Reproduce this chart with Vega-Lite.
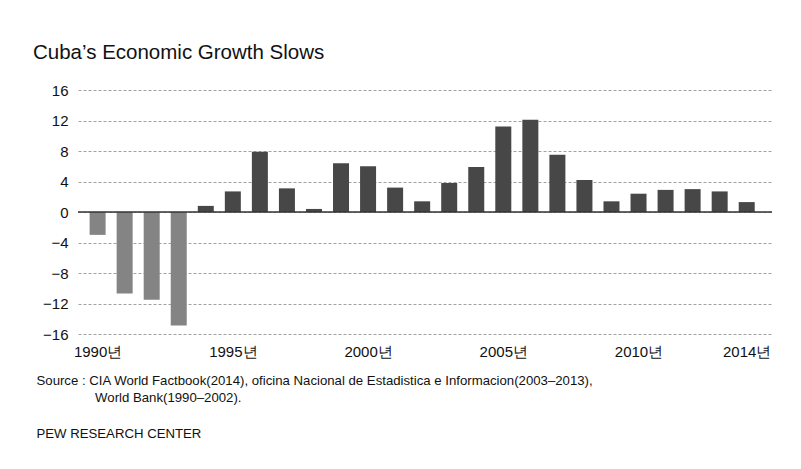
{
  "$schema": "https://vega.github.io/schema/vega-lite/v6.json",
  "width": 694,
  "height": 244,
  "autosize": {"type": "none"},
  "padding": {"left": 78, "top": 90, "right": 29, "bottom": 135},
  "background": "white",
  "title": {
    "text": "Cuba’s Economic Growth Slows",
    "anchor": "start",
    "frame": "group",
    "dx": -45,
    "offset": 20,
    "fontSize": 20.5,
    "fontWeight": "normal",
    "font": "Liberation Sans",
    "color": "#111"
  },
  "config": {
    "view": {"stroke": null},
    "font": "Liberation Sans",
    "axisY": {
      "labelOverlap": false,
      "ticks": false,
      "domain": false,
      "gridDash": [3, 2],
      "gridColor": "#8a8a8a",
      "gridWidth": 0.8,
      "labelFontSize": 15,
      "labelColor": "#111",
      "labelPadding": 10,
      "labelFont": "Liberation Sans",
      "titleAngle": 0,
      "titleAlign": "left",
      "titleBaseline": "middle",
      "titleAnchor": "start",
      "titleX": -42,
      "titleY": 343,
      "titleFontSize": 13.2,
      "titleFontWeight": "normal",
      "titleColor": "#111",
      "titleFont": "Liberation Sans"
    }
  },
  "data": {
    "values": [
      {"year": 1990, "growth": -3.0},
      {"year": 1991, "growth": -10.7},
      {"year": 1992, "growth": -11.5},
      {"year": 1993, "growth": -14.9},
      {"year": 1994, "growth": 0.8},
      {"year": 1995, "growth": 2.7},
      {"year": 1996, "growth": 7.9},
      {"year": 1997, "growth": 3.1},
      {"year": 1998, "growth": 0.4},
      {"year": 1999, "growth": 6.4},
      {"year": 2000, "growth": 6.0},
      {"year": 2001, "growth": 3.2},
      {"year": 2002, "growth": 1.4},
      {"year": 2003, "growth": 3.8},
      {"year": 2004, "growth": 5.9},
      {"year": 2005, "growth": 11.2},
      {"year": 2006, "growth": 12.1},
      {"year": 2007, "growth": 7.5},
      {"year": 2008, "growth": 4.2},
      {"year": 2009, "growth": 1.4},
      {"year": 2010, "growth": 2.4},
      {"year": 2011, "growth": 2.9},
      {"year": 2012, "growth": 3.0},
      {"year": 2013, "growth": 2.7},
      {"year": 2014, "growth": 1.3}
    ]
  },
  "layer": [
    {
      "mark": {"type": "bar", "size": 16},
      "encoding": {
        "x": {
          "field": "year",
          "type": "quantitative",
          "scale": {"domain": [1989.46, 2014.75], "nice": false, "zero": false},
          "axis": {
            "values": [1990, 1995, 2000, 2005, 2010, 2014],
            "labelExpr": "datum.value + '년'",
            "labelOverlap": false,
            "grid": false,
            "ticks": false,
            "domain": false,
            "labelFontSize": 15,
            "labelColor": "#111",
            "labelPadding": 10,
            "labelFont": "Liberation Sans",
            "title": [
              "Source : CIA World Factbook(2014), oficina Nacional de Estadistica e Informacion(2003–2013),",
              "\u200b\u00a0\u00a0\u00a0\u00a0\u00a0\u00a0\u00a0\u00a0\u00a0\u00a0\u00a0\u00a0\u00a0\u00a0\u00a0\u00a0World Bank(1990–2002)."
            ],
            "titleAnchor": "start",
            "titleAlign": "left",
            "titleBaseline": "top",
            "titleX": -42,
            "titleY": 40,
            "titleFontSize": 13.2,
            "titleFontWeight": "normal",
            "titleColor": "#111",
            "titleLineHeight": 17.5,
            "titleFont": "Liberation Sans"
          }
        },
        "y": {
          "field": "growth",
          "type": "quantitative",
          "scale": {"domain": [-16, 16], "nice": false},
          "title": "PEW RESEARCH CENTER",
          "axis": {"values": [-16, -12, -8, -4, 0, 4, 8, 12, 16]}
        },
        "color": {
          "condition": {"test": "datum.growth < 0", "value": "#848484"},
          "value": "#474747"
        }
      }
    },
    {
      "data": {"values": [{"zero": 0}]},
      "mark": {"type": "rule", "color": "#333", "strokeWidth": 1.5},
      "encoding": {
        "y": {
          "field": "zero",
          "type": "quantitative",
          "title": "PEW RESEARCH CENTER",
          "axis": {"values": [-16, -12, -8, -4, 0, 4, 8, 12, 16]}
        }
      }
    }
  ]
}
